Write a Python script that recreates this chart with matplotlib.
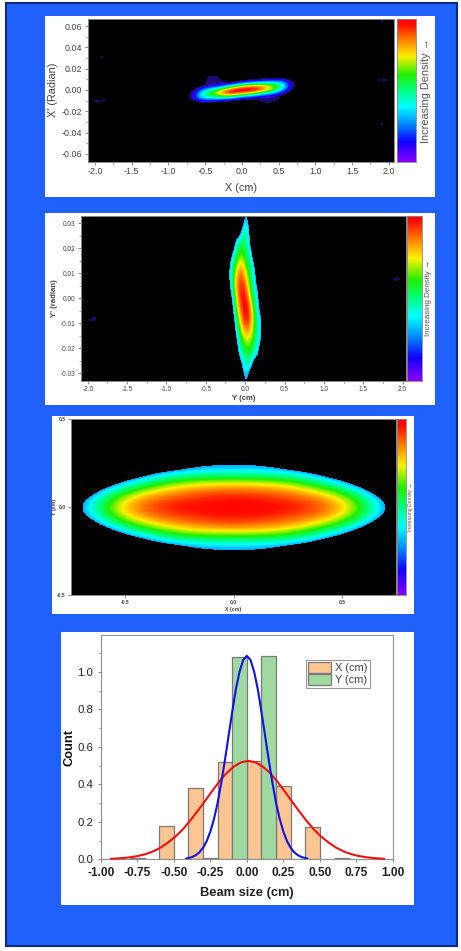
import numpy as np
import matplotlib
matplotlib.use("Agg")
import matplotlib.pyplot as plt
from matplotlib.colors import LinearSegmentedColormap, ListedColormap
from matplotlib.patches import Rectangle
from matplotlib.ticker import MultipleLocator, FormatStrFormatter

plt.rcParams['font.family'] = ['Liberation Sans', 'DejaVu Sans']
plt.rcParams['axes.unicode_minus'] = False

# ---------- data ----------
# Panel 1: X-X' density (one list per x column, top to bottom along p1_y)
p1_x = [-.75, -.65, -.55, -.45, -.35, -.25, -.15, -.05, .05, .15, .25, .35, .45, .55, .65, .75]
p1_y = [.012, .010, .008, .006, .004, .002, 0, -.002, -.004, -.006, -.008, -.010, -.012]
p1_columns = [
    [0, 0, 0, 0, 0, 0, 0, 0, 0, 0, 0, 0, 0],
    [0, 0, 0, 0, 0, 0, .01, .07, .10, .11, .09, .01, 0],
    [0, 0, 0, 0, .02, .12, .25, .34, .40, .38, .29, .16, .02],
    [.05, .06, .06, .06, .08, .25, .40, .52, .55, .47, .33, .14, .01],
    [.05, .07, .07, .08, .14, .35, .54, .68, .68, .54, .35, .14, 0],
    [0, 0, .05, .06, .22, .52, .74, .86, .77, .57, .32, .08, 0],
    [0, 0, 0, .10, .42, .70, .92, .98, .82, .57, .26, .04, 0],
    [0, 0, .02, .28, .60, .85, 1.0, .95, .72, .44, .14, 0, 0],
    [0, 0, .12, .41, .70, .93, 1.0, .88, .62, .31, .08, 0, 0],
    [0, .02, .18, .48, .75, .95, .98, .80, .54, .24, .05, 0, 0],
    [0, .04, .25, .54, .76, .91, .86, .65, .39, .13, .06, .05, 0],
    [0, .07, .28, .52, .70, .80, .71, .52, .27, .09, .07, .07, .05],
    [0, .11, .29, .46, .59, .63, .53, .36, .17, .09, .08, .05, 0],
    [0, .10, .26, .38, .45, .42, .31, .15, .05, 0, 0, 0, 0],
    [0, .01, .06, .10, .11, .08, .03, 0, 0, 0, 0, 0, 0],
    [0, 0, 0, 0, 0, 0, 0, 0, 0, 0, 0, 0, 0],
]
p1_stray_x = [-2.0, -1.97, -1.94, -1.91, -1.88, -1.9, 1.87, 1.9, 1.93, 1.96, 1.9, 1.9]
p1_stray_y = [-.0105, -.0105, -.0105, -.0100, -.0095, .031, .009, .009, .0095, .0095, -.032, .065]

# Panel 2: Y-Y' density
p2_x = [-.24, -.20, -.16, -.12, -.08, -.04, 0, .04, .08, .12, .16, .20, .24]
p2_y = [.0325, .0275, .0225, .0175, .0125, .0075, .0025, -.0025, -.0075, -.0125, -.0175, -.0225, -.0275, -.0325]
p2_density = [
    [0, 0, 0, 0, 0, .10, .33, .20, 0, 0, 0, 0, 0],
    [0, 0, 0, 0, 0, .36, .45, .40, 0, 0, 0, 0, 0],
    [0, 0, 0, .38, .50, .55, .50, .42, .10, 0, 0, 0, 0],
    [0, .10, .38, .52, .60, .62, .55, .48, .36, 0, 0, 0, 0],
    [0, .36, .50, .65, .78, .80, .65, .55, .45, .33, 0, 0, 0],
    [0, .38, .55, .80, .90, .90, .82, .65, .50, .38, .10, 0, 0],
    [0, .20, .50, .75, .92, .98, .93, .75, .55, .42, .34, 0, 0],
    [0, 0, .35, .65, .85, .96, 1.0, .92, .72, .50, .38, .05, 0],
    [0, 0, .20, .50, .72, .90, .99, .96, .80, .58, .45, .32, 0],
    [0, 0, 0, .42, .58, .75, .85, .85, .74, .58, .45, .36, 0],
    [0, 0, 0, .20, .48, .58, .68, .68, .62, .52, .42, .30, 0],
    [0, 0, 0, 0, .38, .45, .52, .55, .52, .44, .34, 0, 0],
    [0, 0, 0, 0, 0, .35, .42, .42, .30, 0, 0, 0, 0],
    [0, 0, 0, 0, 0, .10, .33, .20, 0, 0, 0, 0, 0],
]
p2_stray_x = [-1.97, -1.94, -1.91, -1.95, -1.92, 1.90, 1.93, 1.95, 1.92]
p2_stray_y = [-.0085, -.0080, -.0078, -.0088, -.0085, .0078, .0082, .0078, .0072]

# Panel 3: X-Y density
p3_x = [-.8, -.7, -.6, -.5, -.4, -.3, -.2, -.1, 0, .1, .2, .3, .4, .5, .6, .7, .8]
p3_y = [.25, .20, .15, .10, .05, 0, -.05, -.10, -.15, -.20, -.25]
p3_density = [
    [0, 0, 0, 0, 0, 0, .20, .25, .25, .25, .20, 0, 0, 0, 0, 0, 0],
    [0, 0, 0, 0, .20, .36, .40, .42, .42, .42, .40, .36, .20, 0, 0, 0, 0],
    [0, 0, .03, .33, .47, .58, .65, .67, .68, .67, .65, .58, .47, .33, .03, 0, 0],
    [0, 0, .36, .55, .68, .78, .84, .87, .88, .87, .84, .78, .68, .55, .36, 0, 0],
    [0, .25, .52, .72, .85, .90, .93, .95, .96, .95, .93, .90, .85, .72, .52, .25, 0],
    [0, .31, .58, .80, .90, .95, .98, .99, 1.0, .99, .98, .95, .90, .80, .58, .31, 0],
    [0, .25, .52, .72, .85, .90, .93, .95, .96, .95, .93, .90, .85, .72, .52, .25, 0],
    [0, 0, .36, .55, .68, .78, .84, .87, .88, .87, .84, .78, .68, .55, .36, 0, 0],
    [0, 0, .03, .33, .47, .58, .65, .67, .68, .67, .65, .58, .47, .33, .03, 0, 0],
    [0, 0, 0, 0, .20, .36, .40, .42, .42, .42, .40, .36, .20, 0, 0, 0, 0],
    [0, 0, 0, 0, 0, 0, .20, .25, .25, .25, .20, 0, 0, 0, 0, 0, 0],
]

# Panel 4: histograms and fitted curves
x_bar_left = [-.8, -.6, -.4, -.2, 0, .2, .4, .6]
x_bar_count = [.008, .175, .38, .52, .525, .39, .17, .008]
y_bar_left = [-.3, -.1, .1, .3]
y_bar_count = [.005, 1.08, 1.085, .004]
red_x = [-.93, -.89, -.84, -.79, -.74, -.69, -.64, -.59, -.54, -.49, -.44, -.39, -.34, -.29, -.24, -.19, -.14, -.09, -.04,
         .01, .06, .11, .16, .21, .26, .31, .36, .41, .46, .51, .56, .61, .66, .71, .76, .81, .86, .91, .94]
red_y = [.003, .0043, .0072, .0117, .0185, .0285, .0425, .0625, .089, .120, .158, .204, .254, .307, .361, .413, .459, .494, .517,
         .525, .517, .494, .459, .413, .361, .307, .254, .204, .158, .120, .089, .0625, .0425, .0285, .0185, .0117, .0072, .0043, .003]
blue_x = [-.415, -.4, -.375, -.35, -.325, -.3, -.275, -.25, -.225, -.2, -.175, -.15, -.125, -.1, -.075, -.05, -.025,
          0, .025, .05, .075, .1, .125, .15, .175, .2, .225, .25, .275, .3, .325, .35, .375, .4, .415]
blue_y = [.004, .0065, .012, .0215, .037, .061, .0965, .147, .215, .30, .408, .529, .658, .786, .907, 1.0, 1.063,
          1.085, 1.063, 1.0, .907, .786, .658, .529, .408, .30, .215, .147, .0965, .061, .037, .0215, .012, .0065, .004]
series_names = ["X (cm)", "Y (cm)"]
bar_width = 0.1

# ---------- figure ----------
W, H = 461, 951
fig = plt.figure(figsize=(W / 100, H / 100), dpi=100, facecolor='white')


def box(x0, y0, x1, y1):
    return [x0 / W, 1 - y1 / H, (x1 - x0) / W, (y1 - y0) / H]


def fig_rect(x0, y0, x1, y1, **kw):
    l, b, w, h = box(x0, y0, x1, y1)
    fig.add_artist(Rectangle((l, b), w, h, transform=fig.transFigure, zorder=-5, **kw))


fig_rect(6, 3, 457, 946, facecolor='#2060FB', edgecolor='#0B2B80', linewidth=1.5)
fig_rect(45, 16, 435, 197, facecolor='white', edgecolor='none')
fig_rect(45, 213, 435, 405, facecolor='white', edgecolor='none')
fig_rect(52, 416, 414, 614, facecolor='white', edgecolor='none')
fig_rect(61, 632, 414, 905, facecolor='white', edgecolor='none')

rainbow = LinearSegmentedColormap.from_list('density', [
    (0.00, '#8A00FF'), (0.14, '#1000FF'), (0.27, '#0090FF'), (0.39, '#00FFFF'),
    (0.50, '#00FF80'), (0.61, '#20F000'), (0.74, '#FFF000'), (0.83, '#FF9800'),
    (0.96, '#FF1000'), (1.00, '#FF0000')], N=256)


def thresholded(black_below, dim_below=None):
    lut = rainbow(np.linspace(0, 1, 256))
    if dim_below is not None:
        lut[:int(dim_below * 255)] = matplotlib.colors.to_rgba('#1C0A78')
    lut[:int(black_below * 255)] = (0, 0, 0, 1)
    cmap = ListedColormap(lut)
    cmap.set_under('black')
    return cmap


def density_panel(axbox, cbbox, xs, ys, grid, cmap, xlim, ylim, xstep, ystep, xminor, yminor,
                  yfmt, xlabel, ylabel, xlab_pos, ylab_pos, cb_x, tick_fs, lab_fs, cb_fs,
                  weight, tick_w, tcolor, stray=None):
    ax = fig.add_axes(box(*axbox), facecolor='black')
    dx = abs(xs[1] - xs[0]) / 2
    dy = abs(ys[1] - ys[0]) / 2
    ax.imshow(np.array(grid), extent=[xs[0] - dx, xs[-1] + dx, ys[-1] - dy, ys[0] + dy], aspect='auto',
              cmap=cmap, vmin=0, vmax=1, interpolation='bicubic', interpolation_stage='data')
    if stray is not None:
        ax.scatter(stray[0], stray[1], s=1.6, marker='s', color='#1C0F6A', linewidths=0)
    ax.set_xlim(*xlim)
    ax.set_ylim(*ylim)
    ax.xaxis.set_major_locator(MultipleLocator(xstep))
    ax.yaxis.set_major_locator(MultipleLocator(ystep))
    if xminor:
        ax.xaxis.set_minor_locator(MultipleLocator(xminor))
    if yminor:
        ax.yaxis.set_minor_locator(MultipleLocator(yminor))
    ax.xaxis.set_major_formatter(FormatStrFormatter('%.1f'))
    ax.yaxis.set_major_formatter(FormatStrFormatter(yfmt))
    ax.tick_params(which='major', length=2.2, width=.6, color='#777777', labelsize=tick_fs,
                   labelcolor=tcolor, pad=1.5)
    ax.tick_params(which='minor', length=1.2, width=.5, color='#777777')
    for lab in ax.get_xticklabels() + ax.get_yticklabels():
        lab.set_fontweight(tick_w)
    for s in ax.spines.values():
        s.set_color('#888888')
        s.set_linewidth(.7)
    ax.set_xlabel(xlabel, fontsize=lab_fs, color=tcolor, fontweight=weight, va='center', ha='center')
    ax.set_ylabel(ylabel, fontsize=lab_fs, color=tcolor, fontweight=weight, va='center', ha='center')
    ax.xaxis.set_label_coords(xlab_pos[0] / W, 1 - xlab_pos[1] / H, transform=fig.transFigure)
    ax.yaxis.set_label_coords(ylab_pos[0] / W, 1 - ylab_pos[1] / H, transform=fig.transFigure)

    cb = fig.add_axes(box(*cbbox))
    cb.imshow(np.linspace(1, 0, 256)[:, None], aspect='auto', cmap=rainbow, vmin=0, vmax=1)
    cb.set_xticks([])
    cb.set_yticks([])
    for s in cb.spines.values():
        s.set_color('#888888')
        s.set_linewidth(.6)
    fig.text(cb_x / W, 1 - (cbbox[1] + cbbox[3]) / 2 / H, "Increasing Density \u2192", rotation=90,
             fontsize=cb_fs, color='#555555', ha='center', va='center')
    return ax


density_panel((87.7, 19.3, 394, 162), (397, 19.3, 416, 162), p1_x, p1_y, np.array(p1_columns).T,
              thresholded(.04, .09), (-2.1, 2.07), (-.0677, .0663), .5, .02, .25, .01, '%.2f',
              "X (cm)", "X' (Radian)", (241, 188), (53, 90), 426, 6.4, 7.8, 7.9,
              'normal', 'normal', '#444444', (p1_stray_x, p1_stray_y))
density_panel((80.7, 216, 405.7, 381), (407, 216, 422, 381), p2_x, p2_y, p2_density,
              thresholded(.3), (-2.09, 2.04), (-.033, .0329), .5, .01, .25, .005, '%.2f',
              "Y (cm)", "Y' (radian)", (244, 399), (54, 298), 428, 4.7, 5.6, 5.8,
              'bold', 'normal', '#444444', (p2_stray_x, p2_stray_y))
density_panel((71, 419.3, 396, 595.3), (397, 419.3, 405.7, 595.3), p3_x, p3_y, p3_density,
              thresholded(.3), (-.75, .75), (-.5, .5), .5, .5, None, None, '%.1f',
              "X (cm)", "Y (cm)", (233, 610), (54, 507), 410, 3.6, 3.8, 3.6,
              'bold', 'bold', '#444444')

# Panel 4
ax = fig.add_axes(box(100.7, 635, 393, 859.3), facecolor='white')
ax.bar(x_bar_left, x_bar_count, width=bar_width, align='edge', facecolor='#FCC592',
       edgecolor='#7A7A7A', linewidth=.9, label=series_names[0], zorder=2)
ax.bar(y_bar_left, y_bar_count, width=bar_width, align='edge', facecolor='#A0D9A0',
       edgecolor='#7A7A7A', linewidth=.9, label=series_names[1], zorder=2)
ax.plot(red_x, red_y, color='#F01010', linewidth=1.5, zorder=3, clip_on=False, solid_capstyle='round')
ax.plot(blue_x, blue_y, color='#1010E8', linewidth=1.5, zorder=4, solid_capstyle='round')
ax.set_xlim(-1, 1)
ax.set_ylim(0, 1.196)
ax.xaxis.set_major_locator(MultipleLocator(.25))
ax.yaxis.set_major_locator(MultipleLocator(.2))
ax.yaxis.set_minor_locator(MultipleLocator(.1))
ax.xaxis.set_major_formatter(FormatStrFormatter('%.2f'))
ax.yaxis.set_major_formatter(FormatStrFormatter('%.1f'))
ax.tick_params(which='major', length=2.5, width=.6, color='#777777', labelcolor='#222222', pad=3)
ax.tick_params(which='minor', length=1.4, width=.5, color='#777777')
ax.tick_params(axis='x', labelsize=8.6)
ax.tick_params(axis='y', labelsize=8.2)
for lab in ax.get_xticklabels():
    lab.set_fontweight('bold')
for s in ax.spines.values():
    s.set_color('#909090')
    s.set_linewidth(.8)
ax.set_xlabel("Beam size (cm)", fontsize=9.3, fontweight='bold', color='#222222', va='center', ha='center')
ax.set_ylabel("Count", fontsize=9.3, fontweight='bold', color='#111111', va='center', ha='center')
ax.xaxis.set_label_coords(247 / W, 1 - 893 / H, transform=fig.transFigure)
ax.yaxis.set_label_coords(69 / W, 1 - 747 / H, transform=fig.transFigure)
leg = ax.legend(loc='upper left', bbox_to_anchor=((305.7 - 100.7) / 292.3, 1 - (659.7 - 635) / 224.3),
                borderaxespad=0, fontsize=7.9, handlelength=2.15, handleheight=1.15, handletextpad=.35,
                labelspacing=.1, borderpad=.2, fancybox=False, framealpha=1, edgecolor='#999999',
                labelcolor='#444444')
leg.get_frame().set_linewidth(.8)

fig.savefig('out.png', dpi=100, facecolor='white')
